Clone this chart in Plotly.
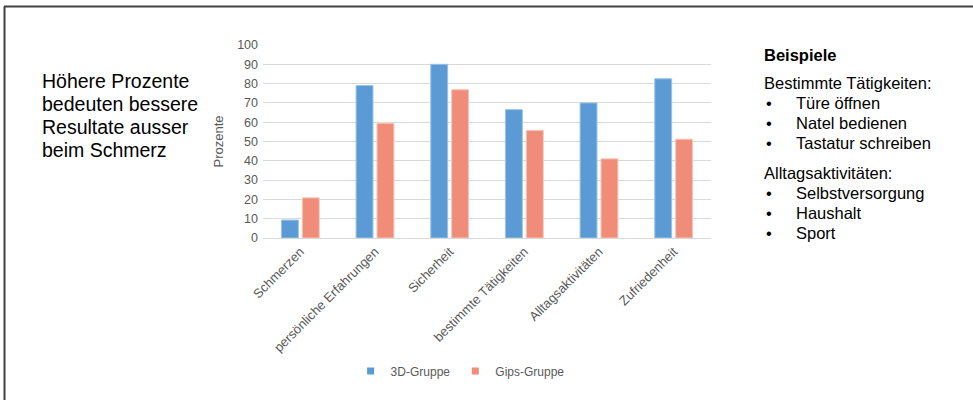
import plotly.graph_objects as go

categories = ["Schmerzen", "persönliche Erfahrungen", "Sicherheit",
              "bestimmte Tätigkeiten", "Alltagsaktivitäten", "Zufriedenheit"]
series_3d = [9.3, 79, 90, 66.5, 70, 82.5]
series_gips = [20.8, 59.4, 76.8, 55.7, 41, 51.2]
series_names = ["3D-Gruppe", "Gips-Gruppe"]
series_colors = ["#5B9BD5", "#F08C77"]
y_ticks = list(range(0, 101, 10))

W, H = 973, 400
L, R, T, B = 263, 711, 45, 238  # plot area in px


def px(x):
    return (x - L) / (R - L)


def py(y):
    return (B - y) / (B - T)


FONT = "Liberation Sans, Arial, sans-serif"
GRAY = "#595959"

fig = go.Figure()
for vals, name, col, outline in [(series_3d, series_names[0], series_colors[0], "#9DC3E6"),
                                 (series_gips, series_names[1], series_colors[1], "#F8C5B8")]:
    fig.add_trace(go.Bar(x=categories, y=vals, name=name, legendgroup=name, showlegend=False,
                         marker=dict(color=col, line=dict(color=outline, width=1))))
# legend entries (small square keys)
for name, col in zip(series_names, series_colors):
    fig.add_trace(go.Scatter(x=[None], y=[None], mode="markers", name=name, legendgroup=name,
                             marker=dict(symbol="square", size=7, color=col)))

fig.update_layout(
    width=W, height=H,
    margin=dict(l=L, r=W - R, t=T, b=H - B),
    paper_bgcolor="white", plot_bgcolor="white",
    barmode="group", bargap=0.44, bargroupgap=0.19,
    font=dict(family=FONT, color=GRAY, size=12),
    showlegend=True,
    legend=dict(orientation="h", x=0.44, xanchor="center", y=py(371), yanchor="middle",
                font=dict(size=12, color=GRAY), itemwidth=30, traceorder="normal",
                tracegroupgap=0),
)
fig.update_yaxes(range=[0, 100], tickvals=y_ticks, showgrid=True, gridcolor="#D9D9D9",
                 gridwidth=1, zeroline=False, showline=False, ticks="",
                 tickfont=dict(size=12.5, color=GRAY), ticklabelstandoff=4,
                 title=dict(text="Prozente", font=dict(size=13, color=GRAY), standoff=10))
fig.update_xaxes(tickangle=-45, tickfont=dict(size=13, color=GRAY), showline=True,
                 linecolor="#D9D9D9", linewidth=1, ticks="", showgrid=False)

# frame lines
fig.add_shape(type="line", xref="paper", yref="paper", x0=px(4), x1=px(973), y0=py(6.5), y1=py(6.5),
              line=dict(color="#404040", width=2))
fig.add_shape(type="line", xref="paper", yref="paper", x0=px(4.5), x1=px(4.5), y0=py(6.5), y1=py(400),
              line=dict(color="#404040", width=2))

# left text
left_lines = [("Höhere Prozente", 81), ("bedeuten bessere", 104),
              ("Resultate ausser", 127), ("beim Schmerz", 150)]
for txt, yy in left_lines:
    fig.add_annotation(xref="paper", yref="paper", x=px(40), y=py(yy), xanchor="left",
                       yanchor="middle", showarrow=False, text=txt,
                       font=dict(size=19.5, color="black", family=FONT))

# right text
right_lines = [
    ("<b>Beispiele</b>", 55, False),
    ("Bestimmte Tätigkeiten:", 83, False),
    ("Türe öffnen", 103, True),
    ("Natel bedienen", 123, True),
    ("Tastatur schreiben", 143, True),
    ("Alltagsaktivitäten:", 173, False),
    ("Selbstversorgung", 193, True),
    ("Haushalt", 213, True),
    ("Sport", 233, True),
]
for txt, yy, bullet in right_lines:
    if bullet:
        fig.add_annotation(xref="paper", yref="paper", x=px(764), y=py(yy), xanchor="left",
                           yanchor="middle", showarrow=False, text="•",
                           font=dict(size=16.5, color="black", family=FONT))
        fig.add_annotation(xref="paper", yref="paper", x=px(794), y=py(yy), xanchor="left",
                           yanchor="middle", showarrow=False, text=txt,
                           font=dict(size=16.5, color="black", family=FONT))
    else:
        fig.add_annotation(xref="paper", yref="paper", x=px(762), y=py(yy), xanchor="left",
                           yanchor="middle", showarrow=False, text=txt,
                           font=dict(size=16.5, color="black", family=FONT))

fig.write_html("out.html")
